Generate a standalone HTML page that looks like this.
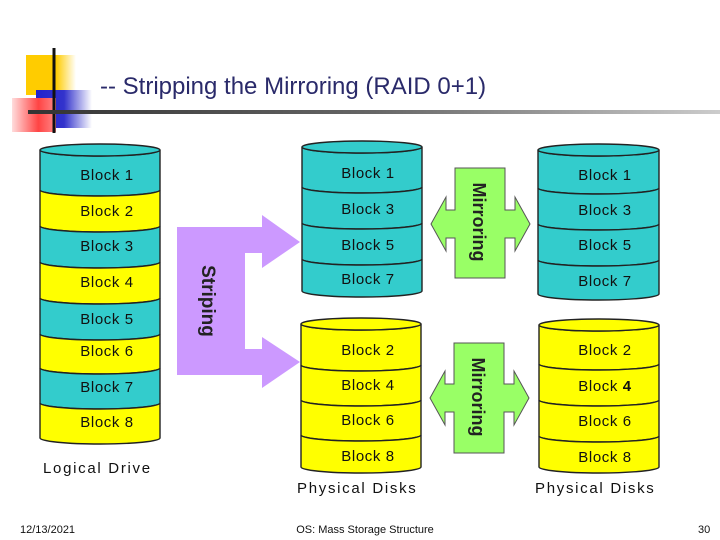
<!DOCTYPE html>
<html><head><meta charset="utf-8"><style>
html,body{margin:0;padding:0;background:#fff;}
svg{display:block;}
text{font-family:"Liberation Sans",sans-serif;}
</style></head><body>
<svg width="720" height="540" viewBox="0 0 720 540" xmlns="http://www.w3.org/2000/svg">
<defs>
<linearGradient id="gy" x1="0" x2="1"><stop offset="0" stop-color="#ffcc00"/><stop offset="0.6" stop-color="#ffcc00"/><stop offset="1" stop-color="#fff"/></linearGradient>
<linearGradient id="gb" x1="0" x2="1"><stop offset="0" stop-color="#2222cc"/><stop offset="0.5" stop-color="#3333cc"/><stop offset="1" stop-color="#fff"/></linearGradient>
<linearGradient id="gr" x1="0" x2="1"><stop offset="0" stop-color="#ffdddd"/><stop offset="0.6" stop-color="#ff4444"/><stop offset="1" stop-color="#ff8888"/></linearGradient>
<linearGradient id="gl" x1="0" x2="1"><stop offset="0" stop-color="#333"/><stop offset="0.5" stop-color="#666"/><stop offset="1" stop-color="#ccc"/></linearGradient>
</defs>
<rect x="26" y="55" width="50" height="40" fill="url(#gy)"/>
<rect x="36" y="90" width="56" height="38" fill="url(#gb)"/>
<rect x="12" y="98" width="44" height="34" fill="url(#gr)"/>
<line x1="54" y1="48" x2="54" y2="133" stroke="#111" stroke-width="3"/>
<rect x="28" y="110" width="692" height="4" fill="url(#gl)"/>
<text x="100" y="94" font-size="24" fill="#2a2a6a">-- Stripping the Mirroring (RAID 0+1)</text>

<g stroke="#222" stroke-width="1.4" font-size="15">
<path d="M40 150 A60 6 0 0 0 160 150 L160 190 A60 6 0 0 1 40 190Z" fill="#33cccc"/>
<path d="M40 190 A60 6 0 0 0 160 190 L160 226 A60 6 0 0 1 40 226Z" fill="#ffff00"/>
<path d="M40 226 A60 6 0 0 0 160 226 L160 262 A60 6 0 0 1 40 262Z" fill="#33cccc"/>
<path d="M40 262 A60 6 0 0 0 160 262 L160 298 A60 6 0 0 1 40 298Z" fill="#ffff00"/>
<path d="M40 298 A60 6 0 0 0 160 298 L160 334 A60 6 0 0 1 40 334Z" fill="#33cccc"/>
<path d="M40 334 A60 6 0 0 0 160 334 L160 368 A60 6 0 0 1 40 368Z" fill="#ffff00"/>
<path d="M40 368 A60 6 0 0 0 160 368 L160 403 A60 6 0 0 1 40 403Z" fill="#33cccc"/>
<path d="M40 403 A60 6 0 0 0 160 403 L160 438 A60 6 0 0 1 40 438Z" fill="#ffff00"/>
<ellipse cx="100" cy="150" rx="60" ry="6" fill="#33cccc"/>

<path d="M302 147 A60 6 0 0 0 422 147 L422 187 A60 6 0 0 1 302 187Z" fill="#33cccc"/>
<path d="M302 187 A60 6 0 0 0 422 187 L422 223 A60 6 0 0 1 302 223Z" fill="#33cccc"/>
<path d="M302 223 A60 6 0 0 0 422 223 L422 259 A60 6 0 0 1 302 259Z" fill="#33cccc"/>
<path d="M302 259 A60 6 0 0 0 422 259 L422 291 A60 6 0 0 1 302 291Z" fill="#33cccc"/>
<ellipse cx="362" cy="147" rx="60" ry="6" fill="#33cccc"/>

<path d="M301 324 A60 6 0 0 0 421 324 L421 365 A60 6 0 0 1 301 365Z" fill="#ffff00"/>
<path d="M301 365 A60 6 0 0 0 421 365 L421 400 A60 6 0 0 1 301 400Z" fill="#ffff00"/>
<path d="M301 400 A60 6 0 0 0 421 400 L421 435 A60 6 0 0 1 301 435Z" fill="#ffff00"/>
<path d="M301 435 A60 6 0 0 0 421 435 L421 467 A60 6 0 0 1 301 467Z" fill="#ffff00"/>
<ellipse cx="361" cy="324" rx="60" ry="6" fill="#ffff00"/>

<path d="M538 150 A60.5 6 0 0 0 659 150 L659 188 A60.5 6 0 0 1 538 188Z" fill="#33cccc"/>
<path d="M538 188 A60.5 6 0 0 0 659 188 L659 224 A60.5 6 0 0 1 538 224Z" fill="#33cccc"/>
<path d="M538 224 A60.5 6 0 0 0 659 224 L659 260 A60.5 6 0 0 1 538 260Z" fill="#33cccc"/>
<path d="M538 260 A60.5 6 0 0 0 659 260 L659 294 A60.5 6 0 0 1 538 294Z" fill="#33cccc"/>
<ellipse cx="598.5" cy="150" rx="60.5" ry="6" fill="#33cccc"/>

<path d="M539 325 A60 6 0 0 0 659 325 L659 364 A60 6 0 0 1 539 364Z" fill="#ffff00"/>
<path d="M539 364 A60 6 0 0 0 659 364 L659 400 A60 6 0 0 1 539 400Z" fill="#ffff00"/>
<path d="M539 400 A60 6 0 0 0 659 400 L659 436 A60 6 0 0 1 539 436Z" fill="#ffff00"/>
<path d="M539 436 A60 6 0 0 0 659 436 L659 467 A60 6 0 0 1 539 467Z" fill="#ffff00"/>
<ellipse cx="599" cy="325" rx="60" ry="6" fill="#ffff00"/>
</g>

<g font-size="15" fill="#111" text-anchor="middle" letter-spacing="0.6">
<text x="107" y="180">Block 1</text>
<text x="107" y="216">Block 2</text>
<text x="107" y="251">Block 3</text>
<text x="107" y="287">Block 4</text>
<text x="107" y="324">Block 5</text>
<text x="107" y="356">Block 6</text>
<text x="107" y="392">Block 7</text>
<text x="107" y="427">Block 8</text>

<text x="368" y="178">Block 1</text>
<text x="368" y="214">Block 3</text>
<text x="368" y="250">Block 5</text>
<text x="368" y="284">Block 7</text>

<text x="368" y="355">Block 2</text>
<text x="368" y="390">Block 4</text>
<text x="368" y="425">Block 6</text>
<text x="368" y="461">Block 8</text>

<text x="605" y="180">Block 1</text>
<text x="605" y="215">Block 3</text>
<text x="605" y="250">Block 5</text>
<text x="605" y="286">Block 7</text>

<text x="605" y="355">Block 2</text>
<text x="605" y="391">Block <tspan font-weight="bold">4</tspan></text>
<text x="605" y="426">Block 6</text>
<text x="605" y="462">Block 8</text>
</g>

<g font-size="15" fill="#111" letter-spacing="1.7">
<text x="43" y="473">Logical Drive</text>
<text x="297" y="493">Physical Disks</text>
<text x="535" y="493">Physical Disks</text>
</g>

<path d="M177 227 L262 227 L262 215 L300 242 L262 268 L262 253 L245 253 L245 349 L262 349 L262 337 L300 362 L262 388 L262 375 L177 375Z" fill="#cc99ff"/>
<text transform="translate(202,301) rotate(90)" font-size="19" font-weight="bold" fill="#222" text-anchor="middle">Striping</text>

<g fill="#99ff66" stroke="#555" stroke-width="1">
<path d="M455 168 L505 168 L505 210 L515 210 L515 197 L530 224 L515 251 L515 238 L505 238 L505 278 L455 278 L455 238 L446 238 L446 251 L431 224 L446 197 L446 210 L455 210Z"/>
<path d="M454 343 L504 343 L504 384 L514 384 L514 371 L529 398 L514 425 L514 412 L504 412 L504 453 L454 453 L454 412 L445 412 L445 425 L430 398 L445 371 L445 384 L454 384Z"/>
</g>
<text transform="translate(473,222) rotate(90)" font-size="18" font-weight="bold" fill="#222" text-anchor="middle">Mirroring</text>
<text transform="translate(472,397) rotate(90)" font-size="18" font-weight="bold" fill="#222" text-anchor="middle">Mirroring</text>

<g font-size="11" fill="#111">
<text x="20" y="533">12/13/2021</text>
<text x="365" y="533" text-anchor="middle">OS: Mass Storage Structure</text>
<text x="698" y="533">30</text>
</g>
</svg>
</body></html>
